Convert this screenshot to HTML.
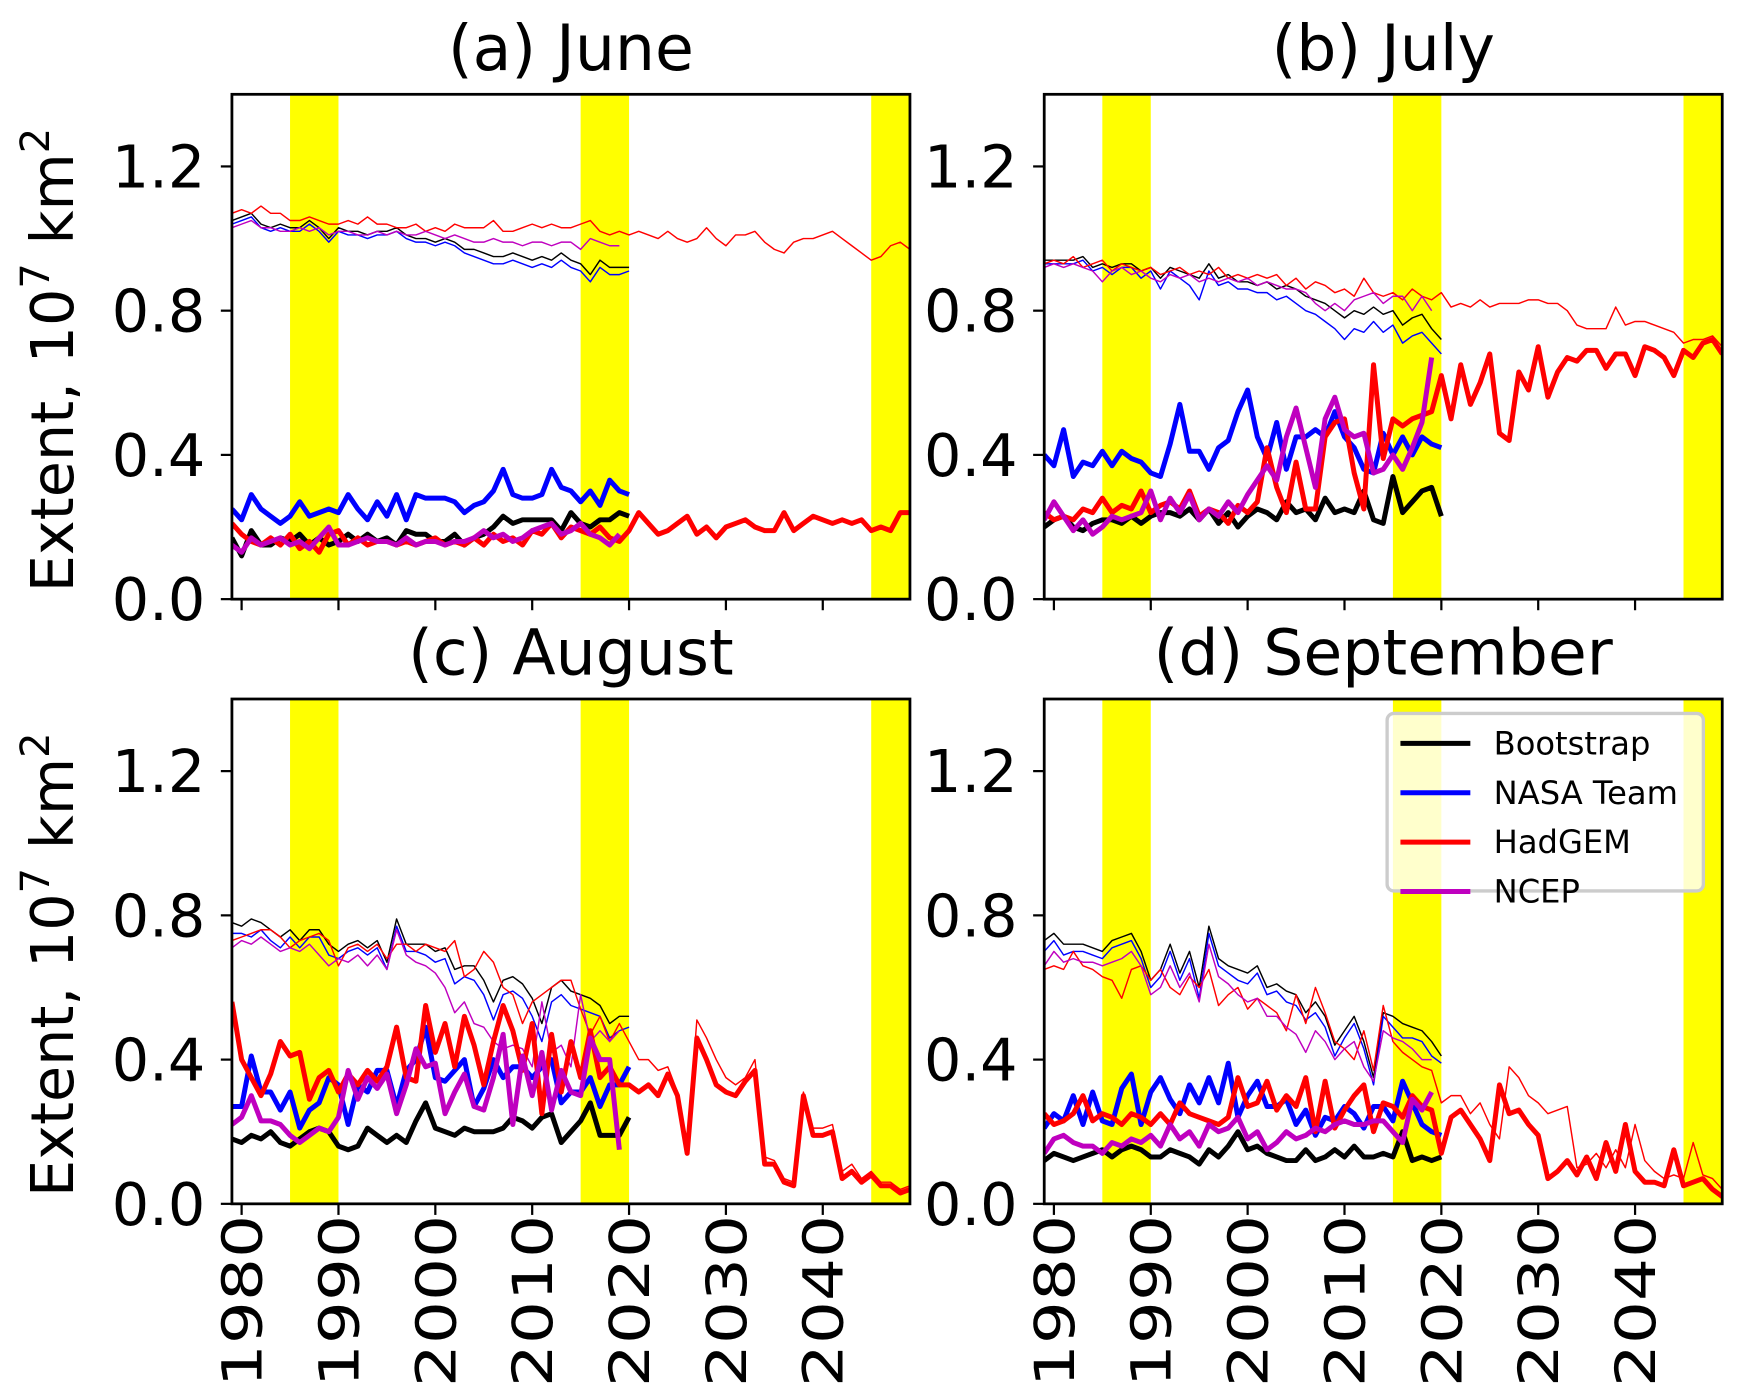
<!DOCTYPE html>
<html><head><meta charset="utf-8"><style>
html,body{margin:0;padding:0;background:#fff;}
svg{display:block;font-family:"DejaVu Sans","Liberation Sans",sans-serif;}
</style></head><body>
<svg id="fig" width="1740" height="1398" viewBox="0 0 1568 1260" preserveAspectRatio="none" xmlns="http://www.w3.org/2000/svg"></svg>
<script>
const TICK_YEARS=[1980,1990,2000,2010,2020,2030,2040];
const Y_TICKS=[0.0,0.4,0.8,1.2];
const Y_TICK_LABELS=["0.0","0.4","0.8","1.2"];
const BANDS=[[1985,1990],[2015,2020],[2045,2050]];
const TITLES=["(a) June","(b) July","(c) August","(d) September"];
const LEGEND_NAMES=["Bootstrap","NASA Team","HadGEM","NCEP"];
const COLORS=["#000000","#0000ff","#ff0000","#bf00bf"];

const JUN_BS_T=[1.05,1.06,1.07,1.04,1.03,1.04,1.03,1.03,1.05,1.03,1.00,1.03,1.02,1.02,1.01,1.02,1.02,1.03,1.01,1.00,1.00,0.99,1.00,0.99,0.97,0.97,0.96,0.95,0.95,0.96,0.95,0.94,0.95,0.94,0.96,0.94,0.93,0.90,0.94,0.92,0.92,0.92];
const JUN_NT_T=[1.04,1.05,1.06,1.03,1.02,1.03,1.02,1.02,1.04,1.02,0.99,1.02,1.01,1.01,1.00,1.01,1.01,1.02,1.00,0.99,0.99,0.98,0.99,0.98,0.96,0.95,0.94,0.93,0.93,0.94,0.93,0.92,0.93,0.92,0.94,0.92,0.91,0.88,0.92,0.90,0.90,0.91];
const JUN_HG_T=[1.07,1.08,1.07,1.09,1.07,1.07,1.05,1.05,1.06,1.05,1.04,1.04,1.05,1.04,1.06,1.04,1.04,1.03,1.03,1.04,1.02,1.03,1.02,1.04,1.03,1.03,1.03,1.05,1.02,1.02,1.03,1.04,1.03,1.04,1.03,1.03,1.04,1.05,1.02,1.01,1.02,1.01,1.02,1.01,1.00,1.02,1.00,0.99,1.00,1.03,1.00,0.98,1.01,1.01,1.02,0.99,0.97,0.96,0.99,1.00,1.00,1.01,1.02,1.00,0.98,0.96,0.94,0.95,0.98,0.99,0.97];
const JUN_NC_T=[1.03,1.04,1.05,1.03,1.03,1.02,1.02,1.03,1.02,1.03,1.01,1.02,1.02,1.01,1.01,1.02,1.01,1.02,1.01,1.01,1.02,1.01,1.00,1.01,1.00,0.99,0.99,1.00,0.99,0.99,0.98,0.99,0.99,0.98,0.99,0.99,0.97,1.00,0.99,0.98,0.98];
const JUN_BS=[0.17,0.12,0.19,0.15,0.15,0.17,0.16,0.18,0.15,0.17,0.15,0.16,0.18,0.16,0.18,0.16,0.17,0.15,0.19,0.18,0.18,0.16,0.16,0.18,0.15,0.17,0.18,0.20,0.23,0.21,0.22,0.22,0.22,0.22,0.19,0.24,0.21,0.20,0.22,0.22,0.24,0.23];
const JUN_NT=[0.25,0.22,0.29,0.25,0.23,0.21,0.23,0.27,0.23,0.24,0.25,0.24,0.29,0.25,0.22,0.27,0.23,0.29,0.22,0.29,0.28,0.28,0.28,0.27,0.24,0.26,0.27,0.30,0.36,0.29,0.28,0.28,0.29,0.36,0.31,0.30,0.27,0.30,0.26,0.33,0.30,0.29];
const JUN_HG=[0.21,0.18,0.16,0.15,0.17,0.15,0.18,0.14,0.16,0.13,0.18,0.19,0.15,0.17,0.15,0.16,0.16,0.15,0.16,0.15,0.16,0.17,0.15,0.16,0.15,0.17,0.15,0.18,0.16,0.17,0.15,0.19,0.18,0.21,0.17,0.20,0.19,0.18,0.20,0.17,0.16,0.19,0.24,0.21,0.18,0.19,0.21,0.23,0.18,0.20,0.17,0.20,0.21,0.22,0.20,0.19,0.19,0.24,0.19,0.21,0.23,0.22,0.21,0.22,0.21,0.22,0.19,0.20,0.19,0.24,0.24];
const JUN_NC=[0.15,0.13,0.17,0.15,0.16,0.17,0.15,0.16,0.14,0.17,0.20,0.15,0.15,0.16,0.17,0.16,0.16,0.15,0.17,0.15,0.16,0.16,0.15,0.16,0.16,0.17,0.19,0.17,0.18,0.16,0.17,0.19,0.20,0.21,0.18,0.19,0.21,0.18,0.17,0.15,0.18];

const JUL_BS_T=[0.94,0.94,0.94,0.94,0.95,0.92,0.93,0.92,0.93,0.93,0.91,0.92,0.89,0.92,0.91,0.90,0.89,0.93,0.89,0.90,0.88,0.88,0.87,0.88,0.86,0.87,0.86,0.84,0.83,0.82,0.80,0.78,0.80,0.79,0.81,0.79,0.80,0.76,0.78,0.79,0.75,0.72];
const JUL_NT_T=[0.93,0.93,0.93,0.93,0.94,0.91,0.92,0.90,0.92,0.92,0.89,0.91,0.86,0.91,0.89,0.87,0.83,0.91,0.87,0.88,0.86,0.86,0.85,0.85,0.83,0.84,0.82,0.80,0.79,0.77,0.75,0.72,0.75,0.74,0.77,0.74,0.76,0.71,0.73,0.74,0.71,0.68];
const JUL_HG_T=[0.93,0.94,0.93,0.95,0.92,0.93,0.94,0.91,0.93,0.92,0.91,0.92,0.90,0.91,0.92,0.90,0.91,0.90,0.92,0.89,0.90,0.89,0.90,0.89,0.90,0.87,0.89,0.86,0.88,0.87,0.85,0.86,0.84,0.89,0.85,0.84,0.85,0.83,0.86,0.84,0.83,0.85,0.81,0.82,0.81,0.83,0.81,0.82,0.82,0.82,0.83,0.83,0.82,0.82,0.80,0.76,0.75,0.75,0.75,0.81,0.76,0.77,0.77,0.76,0.75,0.74,0.71,0.72,0.72,0.73,0.70];
const JUL_NC_T=[0.92,0.93,0.92,0.93,0.92,0.91,0.88,0.91,0.92,0.90,0.91,0.89,0.88,0.90,0.89,0.90,0.88,0.89,0.88,0.89,0.88,0.89,0.87,0.88,0.87,0.86,0.86,0.85,0.82,0.80,0.82,0.80,0.83,0.84,0.85,0.82,0.84,0.84,0.80,0.84,0.80];
const JUL_BS=[0.20,0.22,0.23,0.20,0.19,0.21,0.22,0.22,0.21,0.23,0.21,0.23,0.24,0.24,0.23,0.25,0.22,0.25,0.21,0.24,0.20,0.23,0.25,0.24,0.22,0.27,0.24,0.25,0.22,0.28,0.24,0.25,0.24,0.30,0.22,0.21,0.34,0.24,0.27,0.30,0.31,0.23];
const JUL_NT=[0.40,0.37,0.47,0.34,0.38,0.37,0.41,0.37,0.41,0.39,0.38,0.35,0.34,0.43,0.54,0.41,0.41,0.36,0.42,0.44,0.52,0.58,0.45,0.39,0.49,0.36,0.45,0.45,0.47,0.45,0.52,0.45,0.42,0.36,0.35,0.46,0.40,0.45,0.40,0.45,0.43,0.42];
const JUL_HG=[0.24,0.22,0.23,0.22,0.25,0.24,0.28,0.24,0.26,0.25,0.30,0.24,0.26,0.27,0.25,0.30,0.23,0.25,0.24,0.21,0.26,0.24,0.27,0.42,0.31,0.24,0.38,0.25,0.25,0.45,0.49,0.50,0.35,0.25,0.65,0.39,0.50,0.48,0.50,0.51,0.52,0.62,0.50,0.65,0.54,0.60,0.68,0.46,0.44,0.63,0.58,0.70,0.56,0.63,0.67,0.66,0.69,0.69,0.64,0.68,0.68,0.62,0.70,0.69,0.67,0.62,0.69,0.67,0.71,0.72,0.68];
const JUL_NC=[0.22,0.27,0.23,0.19,0.22,0.18,0.20,0.23,0.22,0.23,0.24,0.30,0.22,0.28,0.24,0.29,0.22,0.25,0.23,0.27,0.24,0.29,0.33,0.37,0.33,0.45,0.53,0.42,0.31,0.50,0.56,0.47,0.45,0.46,0.35,0.36,0.40,0.36,0.42,0.49,0.67];

const AUG_BS_T=[0.78,0.77,0.79,0.78,0.76,0.74,0.76,0.73,0.76,0.76,0.72,0.70,0.72,0.73,0.71,0.73,0.67,0.79,0.72,0.72,0.72,0.70,0.71,0.65,0.66,0.66,0.62,0.56,0.62,0.63,0.61,0.57,0.50,0.60,0.62,0.59,0.58,0.57,0.55,0.50,0.52,0.52];
const AUG_NT_T=[0.75,0.75,0.74,0.76,0.73,0.71,0.74,0.71,0.74,0.74,0.69,0.68,0.70,0.71,0.69,0.71,0.65,0.77,0.70,0.70,0.69,0.67,0.68,0.61,0.63,0.62,0.58,0.51,0.58,0.59,0.57,0.52,0.45,0.56,0.58,0.55,0.54,0.53,0.52,0.46,0.48,0.49];
const AUG_HG_T=[0.73,0.74,0.75,0.76,0.76,0.74,0.71,0.73,0.74,0.75,0.73,0.66,0.71,0.72,0.70,0.72,0.68,0.72,0.72,0.70,0.72,0.71,0.70,0.73,0.63,0.65,0.70,0.67,0.60,0.58,0.50,0.56,0.58,0.60,0.62,0.62,0.54,0.47,0.52,0.45,0.50,0.45,0.40,0.40,0.37,0.38,0.31,0.16,0.51,0.46,0.40,0.35,0.33,0.35,0.40,0.13,0.12,0.07,0.06,0.31,0.21,0.21,0.22,0.09,0.11,0.07,0.09,0.06,0.06,0.04,0.05];
const AUG_NC_T=[0.71,0.73,0.72,0.74,0.72,0.70,0.71,0.70,0.72,0.69,0.66,0.68,0.67,0.69,0.66,0.69,0.65,0.76,0.69,0.67,0.66,0.64,0.60,0.53,0.56,0.50,0.49,0.45,0.43,0.44,0.43,0.38,0.56,0.42,0.44,0.38,0.58,0.45,0.48,0.45,0.48];
const AUG_BS=[0.18,0.17,0.19,0.18,0.20,0.17,0.16,0.18,0.20,0.21,0.20,0.16,0.15,0.16,0.21,0.19,0.17,0.19,0.17,0.23,0.28,0.21,0.20,0.19,0.21,0.20,0.20,0.20,0.21,0.24,0.23,0.21,0.24,0.25,0.17,0.20,0.23,0.28,0.19,0.19,0.19,0.24];
const AUG_NT=[0.27,0.27,0.41,0.31,0.31,0.26,0.31,0.21,0.26,0.28,0.35,0.33,0.22,0.33,0.31,0.37,0.37,0.27,0.37,0.40,0.49,0.35,0.34,0.37,0.40,0.27,0.32,0.40,0.35,0.38,0.38,0.35,0.38,0.40,0.28,0.31,0.31,0.35,0.27,0.33,0.33,0.38];
const AUG_HG=[0.56,0.40,0.35,0.30,0.36,0.45,0.41,0.42,0.29,0.35,0.37,0.31,0.36,0.33,0.37,0.34,0.38,0.49,0.35,0.34,0.55,0.42,0.50,0.38,0.52,0.44,0.33,0.45,0.55,0.48,0.37,0.50,0.25,0.47,0.31,0.45,0.35,0.48,0.35,0.38,0.33,0.33,0.31,0.33,0.30,0.36,0.30,0.14,0.46,0.40,0.33,0.31,0.30,0.34,0.37,0.11,0.11,0.06,0.05,0.30,0.19,0.19,0.20,0.07,0.09,0.06,0.08,0.05,0.05,0.03,0.04];
const AUG_NC=[0.22,0.24,0.30,0.23,0.23,0.22,0.19,0.17,0.19,0.21,0.20,0.24,0.37,0.29,0.35,0.32,0.36,0.25,0.33,0.43,0.38,0.39,0.25,0.31,0.36,0.27,0.26,0.35,0.47,0.22,0.41,0.30,0.42,0.26,0.37,0.31,0.30,0.46,0.40,0.40,0.15];

const SEP_BS_T=[0.73,0.75,0.72,0.72,0.72,0.71,0.70,0.73,0.74,0.75,0.70,0.62,0.65,0.72,0.64,0.70,0.60,0.77,0.68,0.66,0.65,0.64,0.66,0.60,0.61,0.59,0.58,0.53,0.56,0.52,0.44,0.48,0.52,0.45,0.35,0.53,0.52,0.50,0.49,0.48,0.45,0.41];
const SEP_NT_T=[0.70,0.73,0.69,0.70,0.70,0.69,0.68,0.71,0.72,0.73,0.68,0.60,0.63,0.70,0.62,0.68,0.57,0.75,0.66,0.64,0.62,0.61,0.64,0.58,0.59,0.56,0.55,0.51,0.53,0.49,0.41,0.46,0.50,0.43,0.33,0.52,0.49,0.46,0.46,0.45,0.41,0.39];
const SEP_HG_T=[0.65,0.66,0.65,0.70,0.66,0.65,0.63,0.62,0.57,0.65,0.66,0.62,0.65,0.60,0.58,0.63,0.60,0.65,0.55,0.58,0.60,0.54,0.57,0.55,0.53,0.48,0.58,0.50,0.60,0.53,0.45,0.43,0.40,0.48,0.37,0.55,0.45,0.42,0.40,0.38,0.37,0.28,0.30,0.30,0.25,0.28,0.22,0.18,0.38,0.35,0.30,0.28,0.25,0.26,0.27,0.10,0.11,0.14,0.10,0.15,0.10,0.22,0.12,0.09,0.07,0.08,0.07,0.17,0.08,0.07,0.04];
const SEP_NC_T=[0.66,0.70,0.67,0.68,0.67,0.67,0.66,0.67,0.68,0.70,0.66,0.58,0.60,0.66,0.60,0.64,0.56,0.72,0.63,0.61,0.58,0.56,0.57,0.52,0.52,0.49,0.47,0.42,0.48,0.45,0.40,0.43,0.45,0.38,0.34,0.48,0.46,0.45,0.43,0.40,0.40];
const SEP_BS=[0.12,0.14,0.13,0.12,0.13,0.14,0.15,0.13,0.15,0.16,0.15,0.13,0.13,0.15,0.14,0.13,0.11,0.15,0.13,0.16,0.20,0.15,0.16,0.14,0.13,0.12,0.12,0.15,0.12,0.13,0.15,0.13,0.16,0.13,0.13,0.14,0.13,0.20,0.12,0.13,0.12,0.13];
const SEP_NT=[0.21,0.25,0.23,0.30,0.22,0.31,0.23,0.22,0.32,0.36,0.22,0.31,0.35,0.29,0.25,0.33,0.28,0.35,0.28,0.39,0.24,0.30,0.34,0.27,0.27,0.29,0.22,0.26,0.19,0.24,0.23,0.27,0.25,0.21,0.27,0.27,0.23,0.34,0.28,0.22,0.20,0.19];
const SEP_HG=[0.25,0.22,0.23,0.25,0.30,0.23,0.25,0.24,0.22,0.25,0.24,0.22,0.25,0.22,0.28,0.25,0.24,0.23,0.22,0.24,0.35,0.27,0.28,0.34,0.26,0.30,0.27,0.35,0.20,0.34,0.21,0.26,0.30,0.33,0.20,0.28,0.27,0.24,0.30,0.27,0.26,0.14,0.24,0.26,0.22,0.18,0.12,0.33,0.25,0.26,0.22,0.19,0.07,0.09,0.12,0.08,0.13,0.07,0.17,0.09,0.22,0.09,0.06,0.06,0.05,0.15,0.05,0.06,0.07,0.04,0.02];
const SEP_NC=[0.14,0.18,0.19,0.17,0.16,0.16,0.14,0.17,0.16,0.18,0.17,0.19,0.16,0.22,0.18,0.20,0.16,0.22,0.20,0.21,0.24,0.18,0.20,0.15,0.17,0.20,0.18,0.19,0.21,0.20,0.22,0.23,0.22,0.22,0.23,0.23,0.20,0.17,0.29,0.26,0.31];

const START_YEAR=1979;
const PANELS=[
 {x0:209,y0:85,thin:[JUN_BS_T,JUN_NT_T,JUN_HG_T,JUN_NC_T],thick:[JUN_BS,JUN_NT,JUN_HG,JUN_NC]},
 {x0:941,y0:85,thin:[JUL_BS_T,JUL_NT_T,JUL_HG_T,JUL_NC_T],thick:[JUL_BS,JUL_NT,JUL_HG,JUL_NC]},
 {x0:209,y0:630,thin:[AUG_BS_T,AUG_NT_T,AUG_HG_T,AUG_NC_T],thick:[AUG_BS,AUG_NT,AUG_HG,AUG_NC]},
 {x0:941,y0:630,thin:[SEP_BS_T,SEP_NT_T,SEP_HG_T,SEP_NC_T],thick:[SEP_BS,SEP_NT,SEP_HG,SEP_NC]}
];
const W=611,H=455,XMIN=1979,XMAX=2049,YMIN=0,YMAX=1.4;
const NS="http://www.w3.org/2000/svg";
const svg=document.getElementById('fig');
function mk(tag,attrs,parent){const e=document.createElementNS(NS,tag);for(const k in attrs)e.setAttribute(k,attrs[k]);(parent||svg).appendChild(e);return e;}

PANELS.forEach((p,pi)=>{
  const sx=yr=>p.x0+(yr-XMIN)/(XMAX-XMIN)*W;
  const sy=v=>p.y0+H-(v-YMIN)/(YMAX-YMIN)*H;
  const g=mk('g',{});
  
  
  const cp=mk('clipPath',{id:'cp'+pi},g);
  mk('rect',{x:p.x0,y:p.y0,width:W,height:H},cp);
  BANDS.forEach(b=>{
    const r=mk('rect',{x:sx(b[0]),y:p.y0,width:sx(b[1])-sx(b[0]),height:H,fill:'#ffff00','clip-path':'url(#cp'+pi+')'},g);
    
    
  });
  const names=['bootstrap','nasa-team','hadgem','ncep'];
  [['thin',1.3],['thick',4.5]].forEach(([kind,lw])=>{
    p[kind].forEach((arr,si)=>{
      const d=arr.map((v,i)=>(i?'L':'M')+sx(START_YEAR+i).toFixed(2)+','+sy(v).toFixed(2)).join('');
      const path=mk('path',{d:d,fill:'none',stroke:COLORS[si],'stroke-width':lw,'stroke-linejoin':'round','clip-path':'url(#cp'+pi+')'},g);
      
      
    });
  });
  const fr=mk('rect',{x:p.x0,y:p.y0,width:W,height:H,fill:'none',stroke:'#000','stroke-width':2.5},g);
  
  
  Y_TICKS.forEach((v,i)=>{
    mk('line',{x1:p.x0-10,x2:p.x0,y1:sy(v),y2:sy(v),stroke:'#000','stroke-width':2},g);
    const t=mk('text',{x:p.x0-24,y:sy(v)+19,'text-anchor':'end','font-size':53},g);
    t.textContent=Y_TICK_LABELS[i];
    
    
  });
  TICK_YEARS.forEach(yr=>{
    mk('line',{x1:sx(yr),x2:sx(yr),y1:p.y0+H,y2:p.y0+H+10,stroke:'#000','stroke-width':2},g);
    if(pi>=2){
      const t=mk('text',{x:0,y:0,'text-anchor':'end','font-size':50,transform:'translate('+(sx(yr)+18)+','+(p.y0+H+10)+') rotate(-90) scale(1.22,1)'},g);
      t.textContent=String(yr);
      
      
    }
  });
  const tt=mk('text',{x:p.x0+W/2,y:p.y0-22,'text-anchor':'middle','font-size':57},g);
  tt.textContent=TITLES[pi];
  
  
  if(pi%2===0){
    const yl=mk('text',{x:0,y:0,'text-anchor':'middle','font-size':53,transform:'translate(66,'+(p.y0+H/2+12)+') rotate(-90)'},g);
    yl.innerHTML='Extent, 10<tspan font-size="36" dy="-22">7</tspan><tspan dy="22"> km</tspan><tspan font-size="36" dy="-22">2</tspan>';
    
    
  }
});

const lg=mk('g',{});


mk('rect',{x:1250,y:643,width:285,height:160,rx:6,fill:'#ffffff','fill-opacity':0.8,stroke:'#cccccc','stroke-width':3},lg);
LEGEND_NAMES.forEach((n,i)=>{
  const y=670+i*44.5;
  const l=mk('line',{x1:1262,x2:1325,y1:y,y2:y,stroke:COLORS[i],'stroke-width':4.5},lg);
  
  
  const t=mk('text',{x:1346,y:y+10,'font-size':29},lg);
  t.textContent=n;
  
  
});
</script>
</body></html>
